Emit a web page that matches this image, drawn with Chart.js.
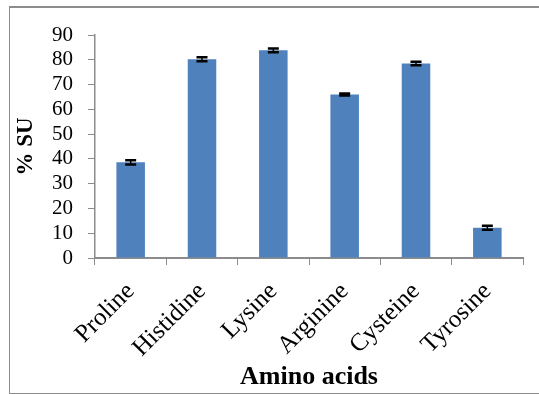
<!DOCTYPE html>
<html>
<head>
<meta charset="utf-8">
<script src="https://cdn.jsdelivr.net/npm/chart.js@4.4.1/dist/chart.umd.min.js"></script>
<style>
  html, body { margin: 0; padding: 0; background: #fff; overflow: hidden; }
  #wrap { position: relative; width: 539px; height: 394px; }
  #frame {
    position: absolute; left: 9px; top: 6px; width: 600px; height: 385px;
    border-top: 2px solid #8c8c8c; border-left: 1px solid #8c8c8c; border-bottom: 1px solid #8c8c8c;
  }
  canvas { position: absolute; left: 0; top: 0; }
</style>
</head>
<body>
<div id="wrap">
  <div id="frame"></div>
  <canvas id="chart" width="539" height="394"></canvas>
</div>
<script>
// Amino acids and their % SU with standard errors
const categories = ["Proline", "Histidine", "Lysine", "Arginine", "Cysteine", "Tyrosine"];
const suValues = [38.6, 80.2, 83.8, 66.0, 78.5, 12.2];
const suErrors = [0.9, 0.8, 0.8, 0.4, 0.7, 0.8];
const yTicks = [0, 10, 20, 30, 40, 50, 60, 70, 80, 90];

const serif = "'Liberation Serif', 'Times New Roman', serif";
const axisGray = "#8c8c8c";

// Draws the black error bars with caps on top of each bar
const errorBars = {
  id: "errorBars",
  afterDatasetsDraw(chart) {
    const meta = chart.getDatasetMeta(0);
    const y = chart.scales.y;
    const ctx = chart.ctx;
    ctx.save();
    ctx.strokeStyle = "#000";
    meta.data.forEach((bar, i) => {
      const v = suValues[i], e = suErrors[i];
      const yTop = y.getPixelForValue(v + e);
      const yBot = y.getPixelForValue(v - e);
      const x = bar.x;
      ctx.lineWidth = 1.5;
      ctx.beginPath();
      ctx.moveTo(x, yTop);
      ctx.lineTo(x, yBot);
      ctx.stroke();
      ctx.lineWidth = 2.5;
      ctx.beginPath();
      ctx.moveTo(x - 5.5, yTop); ctx.lineTo(x + 5.5, yTop);
      ctx.moveTo(x - 5.5, yBot); ctx.lineTo(x + 5.5, yBot);
      ctx.stroke();
    });
    ctx.restore();
  }
};

new Chart(document.getElementById("chart"), {
  type: "bar",
  data: {
    labels: categories,
    datasets: [{
      data: suValues,
      backgroundColor: "#4F81BD",
      borderWidth: 0,
      barPercentage: 1.0,
      categoryPercentage: 0.4
    }]
  },
  options: {
    responsive: false,
    animation: false,
    events: [],
    layout: { padding: { top: 35, right: 16, left: 0, bottom: 0 } },
    plugins: { legend: { display: false }, tooltip: { enabled: false } },
    scales: {
      x: {
        afterFit(scale) { scale.height = 136; },
        grid: {
          display: true, drawOnChartArea: false, drawTicks: true,
          tickLength: 7, color: axisGray, lineWidth: 1, offset: true
        },
        border: { display: true, color: axisGray, width: 2 },
        ticks: {
          minRotation: 45, maxRotation: 45, autoSkip: false,
          padding: 12, color: "#000",
          font: { family: serif, size: 25 }
        },
        title: {
          display: true, text: "Amino acids", color: "#000",
          font: { family: serif, size: 26, weight: "bold" },
          padding: { top: 0, bottom: 1 }
        }
      },
      y: {
        min: 0, max: 90,
        afterFit(scale) { scale.width = 95; },
        afterBuildTicks(scale) { scale.ticks = yTicks.map(v => ({ value: v })); },
        grid: {
          display: true, drawOnChartArea: false, drawTicks: true,
          tickLength: 7, color: axisGray, lineWidth: 1
        },
        border: { display: true, color: axisGray, width: 1.5 },
        ticks: {
          autoSkip: false,
          padding: 15, color: "#000",
          font: { family: serif, size: 21 }
        },
        title: {
          display: true, text: "% SU", color: "#000",
          font: { family: serif, size: 23, weight: "bold" },
          padding: { top: 12, bottom: 0 }
        }
      }
    }
  },
  plugins: [errorBars]
});
</script>
</body>
</html>
